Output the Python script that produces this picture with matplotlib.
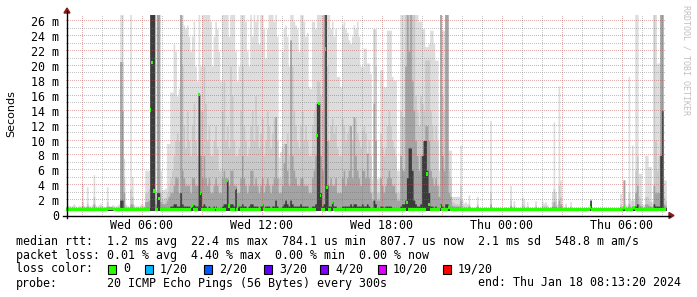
import numpy as np
import matplotlib
matplotlib.use('Agg')
from matplotlib import pyplot as plt
from matplotlib.patches import Rectangle, Polygon
from matplotlib.lines import Line2D

# SmokePing graph, 30 h window ending Thu Jan 18 08:13:20 2024, one sample per 300 s
START_HOUR = 2 + 13 / 60 + 20 / 3600      # Wed 02:13:20, in hours since Wed 00:00
STEP_H = 300 / 3600

# smoke bands in ms (lightest = slowest pings ... darkest = near the median), 24 steps per row
smoke_max = [
    1.4, 1.3, 1.2, 1.3, 1.5, 1.2, 1.1, 1.3, 1.2, 4.3, 1.3, 1.2, 3.8, 1.3, 1.2, 1.4, 5.4, 1.3, 1.2, 1.4, 1.6, 1.3, 1.1, 1.2,
    3.8, 1.3, 1.2, 1.4, 1.3, 1.2, 1.3, 1.5, 27, 27, 7.6, 1.5, 1.3, 1.2, 27, 5.2, 1.4, 1.2, 1.3, 1.2, 1.5, 1.5, 1.3, 6.0,
    6.0, 6.0, 27, 27, 27, 3.4, 27, 27, 6.0, 3.4, 3.4, 3.6, 9.6, 9.6, 16.5, 16.5, 23, 22, 16, 17, 27, 27, 25.5, 25,
    25.5, 24, 22, 24, 26, 20, 18, 27, 20, 27, 27, 27, 27, 27, 26, 20, 24, 26, 25, 22, 18, 27, 27, 27,
    27, 24, 27, 27, 27, 22, 18, 20, 27, 27, 27, 26, 22, 20, 27, 24, 27, 26, 27, 23, 27, 27, 25, 21,
    25, 27, 27, 27, 26, 27, 24, 7.8, 8.5, 22, 25, 25.5, 24, 20, 27, 27, 26, 25.5, 25, 22, 27, 27, 26, 24,
    24.5, 17.2, 17, 26, 26, 25, 27, 27, 27, 27, 27, 27, 27, 27, 25, 26, 24, 25, 18.6, 18.6, 17.2, 25.5, 26, 25,
    24.5, 23.5, 23, 24, 25.5, 25, 26, 24, 20, 19.9, 22.4, 22.4, 20.4, 20.4, 19, 4.9, 25, 25, 4.9, 5, 19.5, 19.5, 17.2, 17.2,
    24.8, 24.8, 24.8, 18.6, 18.1, 18.1, 6, 6, 27, 27, 27, 27, 27, 27, 27, 27, 27, 27, 27, 26, 26, 25, 25, 22.6,
    22.6, 23, 24.8, 24.8, 23, 20.8, 20.8, 6, 27, 24.8, 24.8, 27, 27, 8.7, 8.7, 2.5, 2.5, 2.5, 2.5, 2.5, 9.4, 2.0, 1.6, 1.8,
    1.5, 2.7, 1.1, 1.0, 1.0, 1.1, 2.5, 1.0, 0.95, 1.0, 0.95, 1.1, 0.95, 1.0, 12.7, 1.1, 0.95, 1.0, 0.95, 1.0, 0.95, 1.0, 0.95, 1.1,
    1.0, 0.95, 4.0, 1.1, 1.9, 1.0, 0.95, 1.0, 0.95, 2.4, 2.1, 1.0, 1.8, 0.95, 1.0, 0.95, 1.0, 1.9, 0.95, 1.0, 0.95, 1.9, 1.6, 1.8,
    1.4, 1.0, 1.1, 3.1, 12.5, 3.1, 1.5, 17.3, 4.7, 1.5, 1.0, 1.6, 1.0, 0.95, 1.8, 1.0, 0.95, 1.0, 0.95, 1.0, 0.95, 1.0, 0.95, 1.0,
    0.95, 1.1, 2.2, 1.0, 0.95, 1.0, 0.95, 1.0, 0.95, 1.0, 0.95, 1.0, 0.95, 1.0, 0.95, 1.0, 0.95, 1.0, 0.95, 1.0, 2.9, 1.1, 4.7, 1.5,
    1.3, 18.6, 2.0, 9.4, 2.0, 27, 27, 5.6, 5.6, 1.5, 1.4, 8.0, 8.0, 6.5, 6.5, 1.8, 27, 27, 20.4, 20.4, 27, 27, 4.7, 4.7,
]
smoke_hi = [
    1.2, 1.1, 1.0, 1.1, 1.2, 1.0, 1.0, 1.1, 1.0, 1.8, 1.1, 1.0, 1.6, 1.1, 1.0, 1.1, 2.5, 1.1, 1.0, 1.1, 1.2, 1.1, 1.0, 1.0,
    1.8, 1.1, 1.0, 1.1, 1.1, 1.0, 1.1, 1.2, 20.6, 20.6, 5.0, 1.2, 1.1, 1.0, 3.5, 2.5, 1.1, 1.0, 1.1, 1.0, 1.2, 1.2, 1.1, 3.0,
    3.0, 3.5, 27, 27, 27, 2.0, 27, 27, 3.0, 2.0, 2.2, 2.4, 3.0, 4.0, 5.0, 6.0, 8.0, 10, 11, 10, 27, 20, 12, 9,
    14, 10, 8, 12, 15, 10, 8, 16.2, 14, 14, 20, 15, 10, 12, 8, 8, 10, 12, 9, 6, 6, 14, 18, 10,
    12, 9, 20, 16, 10, 8, 8, 9, 14, 20, 12, 10, 8, 9, 12, 14, 10, 16, 12, 9, 11, 13, 8, 10,
    14, 12, 9, 11, 13, 12.3, 10, 5, 5, 9, 9.6, 9.6, 11, 8, 23.5, 20, 14, 12, 10, 9, 12, 14, 10, 12,
    10, 8, 8, 12, 14, 15, 18, 18, 16, 14, 27, 27, 20, 10, 12, 13, 11, 12, 9, 8, 8, 13, 12, 10,
    11, 12, 11.9, 10, 12.3, 13, 11, 10, 9, 11.4, 12, 11, 8.3, 10, 8, 3, 25, 20, 3, 3, 11, 9, 8, 9,
    12, 14, 12, 10, 9, 8, 3, 3, 14, 13.2, 13.2, 27, 27, 27, 27, 27, 27, 16, 14, 12, 16, 15, 14, 20.8,
    20.8, 20.8, 14, 12, 10, 12, 10, 4, 27, 16, 14, 27, 27, 6, 5, 1.8, 1.6, 1.5, 1.5, 1.5, 4, 1.3, 1.2, 1.2,
    1.1, 1.5, 0.9, 0.9, 0.9, 0.9, 1.5, 0.9, 0.9, 0.9, 0.9, 0.9, 0.9, 0.9, 3.0, 0.9, 0.9, 0.9, 0.9, 0.9, 0.9, 0.9, 0.9, 0.9,
    0.9, 0.9, 2.0, 0.9, 1.3, 0.9, 0.9, 0.9, 0.9, 1.5, 1.3, 0.9, 1.2, 0.9, 0.9, 0.9, 0.9, 1.3, 0.9, 0.9, 0.9, 1.3, 1.2, 1.3,
    1.1, 0.9, 0.9, 1.8, 3.5, 2.0, 1.1, 4.0, 2.5, 1.1, 0.9, 1.2, 0.9, 0.9, 1.2, 0.9, 0.9, 0.9, 0.9, 0.9, 0.9, 0.9, 0.9, 0.9,
    0.9, 0.9, 1.8, 0.9, 0.9, 0.9, 0.9, 0.9, 0.9, 0.9, 0.9, 0.9, 0.9, 0.9, 0.9, 0.9, 0.9, 0.9, 0.9, 0.9, 1.5, 0.9, 4.7, 1.1,
    1.1, 3.0, 1.2, 2.0, 1.2, 6.0, 8.0, 2.5, 2.0, 1.1, 1.1, 2.5, 2.5, 2.0, 1.8, 1.2, 27, 10, 6.0, 8.0, 27, 27, 2.5, 2.0,
]
smoke_mid = [
    1.0, 1.0, 0.9, 1.0, 1.0, 0.9, 0.9, 1.0, 0.9, 1.2, 1.0, 0.9, 1.2, 1.0, 0.9, 1.0, 1.5, 1.0, 0.9, 1.0, 1.0, 1.0, 0.9, 0.9,
    1.2, 1.0, 0.9, 1.0, 1.0, 0.9, 1.0, 1.0, 20.6, 14, 3.0, 1.0, 1.0, 0.9, 1.5, 1.5, 1.0, 0.9, 1.0, 0.9, 1.0, 1.0, 1.0, 1.8,
    1.8, 2.0, 27, 27, 27, 1.5, 27, 27, 1.8, 1.5, 1.5, 1.6, 2, 2.5, 3, 3, 4, 5.1, 5, 3, 27, 6, 5, 4,
    4, 4, 3, 5, 5, 4, 4, 16.2, 8, 5, 8, 5, 4, 5, 3, 3, 4, 5, 4, 3, 3, 5, 6, 5,
    5, 4, 6, 6, 4, 4, 3, 3, 5, 8, 5, 4, 3, 4, 6, 6, 4, 5, 4, 3, 4, 5, 3, 4,
    5, 4, 3, 4, 5, 13.2, 5, 3, 3, 4, 7, 9.6, 6, 4, 23.5, 8, 6, 5, 4, 4, 5, 5, 4, 4,
    4, 3, 3, 5, 6, 8, 15, 15, 8, 6, 27, 27, 10, 4, 5, 4, 4, 5, 3, 3, 3, 5, 6, 4,
    5, 6, 12, 5, 13.2, 8, 6, 5, 4, 6, 6, 5, 8.3, 5, 3, 2, 15, 10, 2, 2, 5, 4, 3, 4,
    5, 6, 5, 4, 4, 3, 2, 2, 8, 6, 6, 20, 27, 22, 27, 18, 14, 10, 8, 6, 8, 7, 10, 12,
    12, 10, 6, 5, 4, 5, 4, 2.5, 27, 8, 6, 27, 27, 3, 2.5, 1.3, 1.2, 1.2, 1.2, 1.2, 2, 1.0, 1.0, 1.0,
    1.0, 1.2, 0.85, 0.85, 0.85, 0.85, 1.2, 0.85, 0.85, 0.85, 0.85, 0.85, 0.85, 0.85, 1.5, 0.85, 0.85, 0.85, 0.85, 0.85, 0.85, 0.85, 0.85, 0.85,
    0.85, 0.85, 1.3, 0.85, 1.0, 0.85, 0.85, 0.85, 0.85, 0.85, 0.85, 0.85, 0.85, 0.85, 0.85, 0.85, 0.85, 0.85, 0.85, 0.85, 0.85, 0.85, 0.85, 0.85,
    0.85, 0.85, 0.85, 1.2, 1.8, 1.2, 0.85, 2.0, 1.5, 0.85, 0.85, 0.85, 0.85, 0.85, 0.85, 0.85, 0.85, 0.85, 0.85, 0.85, 0.85, 0.85, 0.85, 0.85,
    0.85, 0.85, 1.5, 0.85, 0.85, 0.85, 0.85, 0.85, 0.85, 0.85, 0.85, 0.85, 0.85, 0.85, 0.85, 0.85, 0.85, 0.85, 0.85, 0.85, 1.1, 0.85, 4.7, 0.85,
    1.0, 1.5, 1.0, 1.2, 1.0, 3.0, 4.0, 1.5, 1.3, 1.0, 1.0, 1.5, 1.5, 1.3, 1.2, 1.0, 4.0, 3.0, 3.0, 3.0, 27, 27, 1.5, 1.3,
]
smoke_low = [
    0.8, 0.8, 0.8, 0.8, 0.8, 0.8, 0.8, 0.8, 0.8, 0.8, 0.8, 0.8, 0.8, 0.8, 0.8, 0.8, 0.8, 0.8, 0.8, 0.8, 0.8, 0.8, 0.8, 0.8,
    0.8, 0.8, 0.8, 0.8, 0.8, 0.8, 0.8, 0.8, 2.0, 2.0, 0.8, 0.8, 0.8, 0.8, 0.8, 0.8, 0.8, 0.8, 0.8, 0.8, 0.8, 0.8, 0.8, 0.8,
    1.0, 1.0, 27, 27, 27, 1.0, 3.0, 3.0, 1.0, 0.9, 0.9, 0.9, 1.0, 1.0, 1.2, 1.2, 1.5, 1.5, 1.2, 1.2, 3.0, 1.5, 1.2, 1.2,
    1.2, 1.2, 1.0, 1.2, 1.4, 1.2, 1.2, 16.2, 3.0, 1.2, 1.5, 1.2, 1.0, 1.2, 1.0, 1.0, 1.2, 1.2, 1.0, 1.0, 1.0, 1.2, 1.5, 1.5,
    4.7, 1.2, 1.5, 1.5, 1.2, 3.6, 1.0, 1.2, 1.2, 1.5, 1.2, 1.2, 1.0, 1.2, 1.5, 1.5, 1.2, 1.2, 1.2, 1.0, 1.2, 1.5, 1.0, 1.2,
    1.2, 1.2, 1.0, 1.2, 1.2, 2.0, 1.2, 1.0, 1.0, 1.2, 1.5, 2.0, 1.5, 1.2, 2.0, 1.5, 1.2, 1.2, 1.2, 1.2, 1.5, 1.2, 1.2, 1.2,
    1.2, 1.0, 1.0, 1.2, 1.2, 1.5, 15, 15, 3.0, 1.2, 1.5, 27, 4.0, 1.2, 1.2, 1.8, 1.2, 1.2, 1.0, 1.0, 1.0, 1.2, 1.2, 1.2,
    1.2, 1.2, 1.5, 1.2, 1.5, 1.5, 1.2, 1.2, 1.2, 1.5, 1.2, 1.2, 1.5, 1.2, 1.0, 1.0, 2.0, 1.5, 1.0, 1.0, 1.2, 1.2, 1.0, 1.2,
    1.2, 1.2, 1.2, 1.0, 1.0, 1.0, 0.9, 0.9, 1.2, 1.5, 1.5, 2.0, 5.0, 9.0, 9.0, 6.0, 2.0, 1.5, 1.2, 1.2, 1.5, 8.0, 10, 10,
    6.0, 3.0, 1.2, 1.2, 1.0, 1.2, 1.0, 0.9, 1.5, 1.2, 1.0, 1.5, 1.5, 1.0, 0.9, 0.8, 0.8, 0.8, 0.8, 0.8, 0.9, 0.8, 0.8, 0.8,
    0.8, 0.8, 0.8, 0.8, 0.8, 0.8, 0.8, 0.8, 0.8, 0.8, 0.8, 0.8, 0.8, 0.8, 0.8, 0.8, 0.8, 0.8, 0.8, 0.8, 0.8, 0.8, 0.8, 0.8,
    0.8, 0.8, 0.8, 0.8, 0.8, 0.8, 0.8, 0.8, 0.8, 0.8, 0.8, 0.8, 0.8, 0.8, 0.8, 0.8, 0.8, 0.8, 0.8, 0.8, 0.8, 0.8, 0.8, 0.8,
    0.8, 0.8, 0.8, 0.8, 0.8, 0.8, 0.8, 0.8, 0.8, 0.8, 0.8, 0.8, 0.8, 0.8, 0.8, 0.8, 0.8, 0.8, 0.8, 0.8, 0.8, 0.8, 0.8, 0.8,
    0.8, 0.8, 2.0, 0.8, 0.8, 0.8, 0.8, 0.8, 0.8, 0.8, 0.8, 0.8, 0.8, 0.8, 0.8, 0.8, 0.8, 0.8, 0.8, 0.8, 0.8, 0.8, 0.8, 0.8,
    0.8, 1.0, 0.8, 0.8, 0.8, 1.2, 1.5, 1.0, 1.0, 0.8, 0.8, 1.0, 1.0, 1.0, 0.8, 0.8, 1.5, 1.2, 1.2, 1.2, 8.0, 14, 1.0, 1.0,
]
SMOKE_FLOOR = 0.6           # fastest ping, bottom of the smoke

# median rtt: flat ~0.76 ms except these steps
MEDIAN_BASE = 0.76
median_jump_step = [25, 26, 27, 50, 51, 52, 55, 75, 79, 80, 89, 96, 97, 101, 103, 117, 150, 151, 152,
                    155, 156, 159, 204, 216, 217, 224, 229, 314, 334, 340]
median_jump_ms = [0.9, 0.9, 0.9, 14.1, 20.5, 3.2, 2.2, 1.3, 16.2, 2.9, 1.0, 4.6, 1.2, 3.6, 1.4, 1.4, 10.7, 15.0, 2.6,
                  22.3, 3.7, 1.7, 1.7, 5.5, 1.4, 1.1, 1.0, 1.0, 1.0, 1.0]
loss_step = [167]
loss_level = [1]            # index into loss_labels

loss_labels = ['0', '1/20', '2/20', '3/20', '4/20', '10/20', '19/20']
loss_colors = ['#26ff00', '#00b8ff', '#0059ff', '#5e00ff', '#7e00ff', '#dd00ff', '#ff0000']

x_tick_hours = [6, 12, 18, 24, 30]
x_tick_labels = ['Wed 06:00', 'Wed 12:00', 'Wed 18:00', 'Thu 00:00', 'Thu 06:00']

legend_rows = [
    'median rtt:  1.2 ms avg  22.4 ms max  784.1 us min  807.7 us now  2.1 ms sd  548.8 m am/s',
    'packet loss: 0.01 % avg  4.40 % max  0.00 % min  0.00 % now',
]
probe_text = '20 ICMP Echo Pings (56 Bytes) every 300s'
end_text = 'end: Thu Jan 18 08:13:20 2024'

W, H = 697, 297
MONO = 'DejaVu Sans Mono'
FS = 8.4
PX_PER_MS = 7.45
PX_PER_H = 20
plt.rcParams['font.family'] = MONO


def fx(px):
    return px / W


def fy(py):
    return 1 - py / H


fig = plt.figure(figsize=(W / 100, H / 100), dpi=100)
ax = fig.add_axes([fx(66.4), fy(215), 600 / W, 200 / H])
n = len(smoke_max)
hours = START_HOUR + np.arange(n) * STEP_H
edges = np.append(hours, hours[-1] + STEP_H)
y_top = 200 / PX_PER_MS
ax.set_xlim(edges[0], edges[-1])
ax.set_ylim(0, y_top)

# smoke, light to dark
for vals, col in zip([smoke_max, smoke_hi, smoke_mid, smoke_low],
                     ['#dddddd', '#c9c9c9', '#a3a3a3', '#3c3c3c']):
    v = np.append(vals, vals[-1])
    ax.fill_between(edges, SMOKE_FLOOR, v, step='post', color=col, linewidth=0, zorder=1)

# grid: one pixel on / one pixel off dots, drawn over the smoke
major_col = (0.72, 0.3, 0.3, 0.45)
minor_col = (0.45, 0.45, 0.45, 0.42)
y_dots = np.arange(0, y_top, 2 / PX_PER_MS)
x_dots = np.arange(edges[0], edges[-1], 2 / PX_PER_H)
for h in range(int(np.ceil(edges[0])), int(edges[-1]) + 1):
    ax.plot(np.full(len(y_dots), h), y_dots, ls='none', marker=',',
            color=major_col if h % 3 == 0 else minor_col, zorder=2)
for ms in range(1, int(y_top) + 1):
    ax.plot(x_dots, np.full(len(x_dots), ms), ls='none', marker=',',
            color=major_col if ms % 2 == 0 else minor_col, zorder=2)

# median boxes, coloured by loss
med = np.full(n, MEDIAN_BASE)
med[median_jump_step] = median_jump_ms
cols = [loss_colors[0]] * n
for s, lv in zip(loss_step, loss_level):
    cols[s] = loss_colors[lv]
ax.bar(hours, 0.45, bottom=med - 0.22, width=STEP_H, align='edge', color=cols,
       linewidth=0, antialiased=False, zorder=3)

for sp in ax.spines.values():
    sp.set_visible(False)
ax.set_xticks(x_tick_hours, x_tick_labels)
y_ticks = list(range(0, int(y_top) + 1, 2))
ax.set_yticks(y_ticks, ['0' if t == 0 else f'{t} m' for t in y_ticks])
ax.tick_params(axis='both', length=0, labelsize=FS, colors='black')
ax.tick_params(axis='x', pad=3.2)
ax.tick_params(axis='y', pad=5)

# axis lines with small arrow heads
fig.add_artist(Line2D([fx(63), fx(670)], [fy(215.5), fy(215.5)], color='black', lw=1,
                      transform=fig.transFigure))
fig.add_artist(Line2D([fx(66.9), fx(66.9)], [fy(218), fy(11)], color='black', lw=1,
                      transform=fig.transFigure))
arrow_col = '#8b1a1a'
fig.add_artist(Polygon([(fx(64), fy(13)), (fx(70), fy(13)), (fx(67), fy(8))], closed=True,
                       color=arrow_col, transform=fig.transFigure))
fig.add_artist(Polygon([(fx(669), fy(212.5)), (fx(669), fy(218.5)), (fx(674), fy(215.5))], closed=True,
                       color=arrow_col, transform=fig.transFigure))

fig.text(fx(11), fy(114), 'Seconds', rotation=90, ha='center', va='center',
         family='DejaVu Sans', fontsize=8)
fig.text(fx(686), fy(5), 'RRDTOOL / TOBI OETIKER', rotation=270, ha='center', va='top',
         color='#c0c0c0', fontsize=6)

for i, row in enumerate(legend_rows):
    fig.text(fx(16), fy(241 + 14 * i), row, ha='left', va='center', fontsize=FS)

fig.text(fx(16), fy(269), 'loss color:', ha='left', va='center', fontsize=FS)
box_x = [108, 145, 204, 264, 320, 378, 443]
for bx, lab, col in zip(box_x, loss_labels, loss_colors):
    fig.add_artist(Rectangle((fx(bx), fy(273.5)), 8 / W, 9 / H, facecolor=col, edgecolor='black',
                             lw=0.8, transform=fig.transFigure))
    fig.text(fx(bx + 15), fy(269), lab, ha='left', va='center', fontsize=FS)

fig.text(fx(16), fy(283), 'probe:', ha='left', va='center', fontsize=FS)
fig.text(fx(107), fy(283), probe_text, ha='left', va='center', fontsize=FS)
fig.text(fx(681), fy(283), end_text, ha='right', va='center', fontsize=FS)

fig.savefig('out.png', dpi=100)
